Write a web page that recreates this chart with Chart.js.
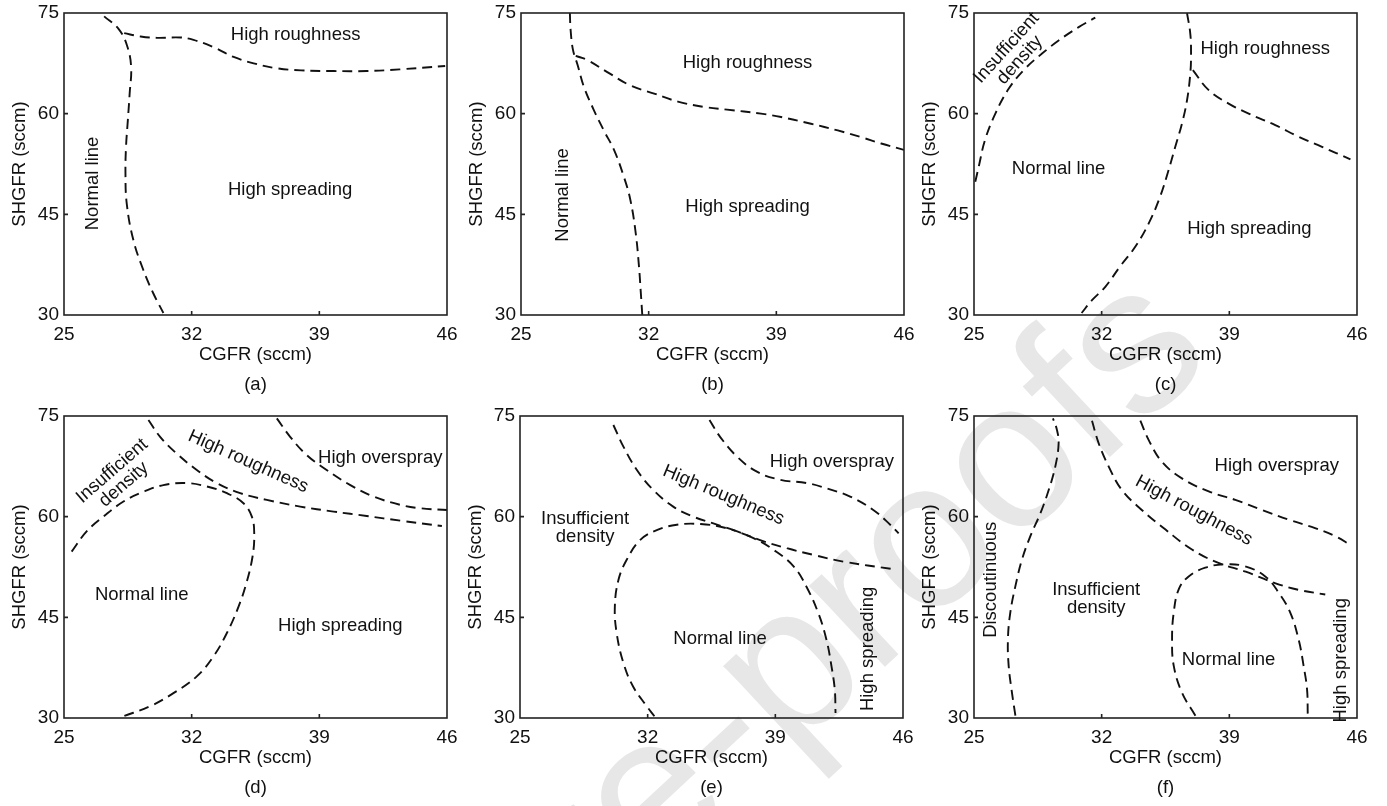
<!DOCTYPE html>
<html lang="en">
<head>
    <meta charset="UTF-8">
    <title>CGFR / SHGFR process maps</title>
    <script src="https://cdn.jsdelivr.net/npm/chart.js"></script>
    <style>
        body {
            margin: 0;
            background: #fff;
            font-family: "Liberation Sans", Arial, sans-serif;
        }
        #page {
            position: relative;
            width: 1387px;
            height: 806px;
            overflow: hidden;
        }
        .panel { position: absolute; }
        .watermark {
            position: absolute;
            left: 1095px;
            top: 229px;
            font-size: 210px;
            line-height: 1;
            color: #e7e7e7;
            white-space: nowrap;
            transform-origin: 0 0;
            transform: rotate(-43deg) translate(-100%, 0);
        }
    </style>
</head>
<body>
<div id="page">
    <div class="watermark">Journal Pre-proofs</div>
</div>

<script>
    // axis ticks shared by all six maps
    const xTicks = [25, 32, 39, 46];
    const yTicks = [30, 45, 60, 75];

    // (a)
    const aLeft = [[27.2,74.5],[28.0,72.6],[28.45,70.2],[28.68,67.0],[28.6,63.0],[28.5,59.0],[28.4,55.0],[28.37,51.1],[28.44,46.6],[28.8,41.2],[29.35,36.7],[29.9,33.2],[30.45,30.3]];
    const aTop = [[28.3,72.0],[29.2,71.5],[30.1,71.3],[31.4,71.35],[32.1,71.0],[33.2,69.9],[34.3,68.45],[35.4,67.5],[36.7,66.75],[38.0,66.45],[39.8,66.35],[41.6,66.35],[43.4,66.6],[45.9,67.1]];
    // (b)
    const bLeft = [[27.68,75],[27.72,72.5],[27.85,69.5],[28.1,67.3],[28.45,64.0],[29.0,60.5],[29.54,57.5],[30.1,54.6],[30.64,50.6],[31.0,47.1],[31.29,42.2],[31.47,37.2],[31.56,33.7],[31.65,30.0]];
    const bRight = [[28.0,68.6],[28.63,68.0],[29.73,66.2],[31.0,64.2],[32.3,63.0],[33.6,61.8],[35.04,61.0],[36.3,60.6],[38.16,60.0],[39.26,59.5],[40.9,58.5],[42.37,57.5],[43.65,56.5],[44.75,55.55],[46.0,54.6]];
    // (c)
    const cUpper = [[25.07,49.85],[25.26,52.1],[25.6,56.05],[26.17,60.0],[26.9,63.7],[27.8,66.7],[28.73,68.95],[29.64,70.9],[30.74,72.9],[31.65,74.3]];
    const cMiddle = [[36.68,75],[36.86,71.9],[36.9,68.95],[36.86,66.0],[36.68,62.0],[36.4,58.5],[36.04,55.1],[35.67,51.6],[35.2,47.6],[34.58,43.65],[33.85,40.2],[33.0,37.2],[32.2,34.2],[31.47,32.2],[30.9,30.3]];
    const cRight = [[37.0,66.5],[37.87,63.5],[38.96,61.5],[40.06,60.0],[41.52,58.3],[42.8,56.55],[44.08,55.06],[45.64,53.2]];
    // (d)
    const dDome = [[25.42,54.8],[26.24,57.8],[27.16,60.0],[28.26,62.25],[29.35,63.7],[30.45,64.7],[31.73,65.0],[32.83,64.5],[33.93,63.5],[34.84,62.0],[35.3,60.0],[35.43,57.5],[35.34,54.1],[35.0,50.1],[34.57,46.6],[33.93,42.66],[33.2,39.2],[32.28,36.2],[31.0,33.7],[29.72,31.75],[28.26,30.26]];
    const dRough = [[29.63,74.4],[30.27,71.9],[31.18,69.4],[32.28,66.96],[33.38,65.0],[34.66,63.5],[36.12,62.5],[37.95,61.5],[39.78,60.76],[41.6,60.1],[43.44,59.4],[45.72,58.6]];
    const dOver = [[36.67,74.65],[37.4,71.9],[38.3,69.2],[39.4,66.96],[40.7,64.7],[41.97,63.0],[43.44,61.76],[44.5,61.26],[46.0,61.0]];
    // (e)
    const eLoop = [[32.37,30.26],[31.95,31.75],[31.2,34.7],[30.67,38.2],[30.3,42.66],[30.2,46.6],[30.4,50.6],[30.85,53.57],[31.58,56.5],[32.5,58.0],[33.6,58.8],[34.9,58.9],[36.3,58.3],[37.8,56.8],[38.9,55.06],[40.0,52.6],[40.7,49.6],[41.36,45.6],[41.8,41.7],[42.08,37.7],[42.26,34.2],[42.3,30.75]];
    const eRough = [[30.12,73.66],[30.67,70.44],[31.4,67.0],[32.3,64.0],[33.4,61.5],[34.5,60.0],[35.6,59.0],[36.9,57.8],[38.17,56.5],[39.63,55.3],[41.1,54.3],[42.74,53.3],[45.4,52.2]];
    const eOver = [[35.39,74.4],[35.97,71.9],[36.9,68.95],[37.99,66.7],[39.27,65.5],[40.73,65.0],[41.83,64.2],[43.1,63.0],[44.37,61.0],[45.3,58.8],[45.76,57.5]];
    // (f)
    const fLeft = [[27.27,30.35],[27.08,33.8],[26.9,37.8],[26.86,41.7],[26.99,45.7],[27.27,49.65],[27.63,53.6],[28.09,57.1],[28.64,60.5],[29.1,64.0],[29.46,67.5],[29.64,70.9],[29.55,72.9],[29.33,74.65]];
    const fRough = [[31.47,74.3],[31.84,70.9],[32.38,67.5],[33.1,64.0],[34.2,61.0],[35.5,58.07],[36.95,55.1],[38.4,53.1],[39.9,51.8],[41.5,50.1],[42.8,49.1],[44.26,48.4]];
    const fOver = [[34.12,74.3],[34.58,71.4],[35.3,68.2],[36.4,65.7],[37.87,63.76],[39.33,62.5],[40.8,61.0],[42.25,59.55],[43.7,58.3],[44.8,57.1],[45.7,55.7]];
    const fDome = [[37.14,30.35],[36.4,33.8],[35.95,37.8],[35.86,41.7],[35.95,45.7],[36.23,49.2],[36.77,51.1],[37.68,52.4],[38.78,52.9],[39.87,52.6],[40.97,51.1],[41.7,48.7],[42.34,45.7],[42.8,41.7],[43.07,37.8],[43.26,34.3],[43.3,30.6]];

    // region names: text, x, y, rotation (deg)
    const aLabels = [['High roughness',37.7,71.7,0],['High spreading',37.4,48.7,0],['Normal line',26.6,49.6,-90]];
    const bLabels = [['High roughness',37.42,67.56,0],['High spreading',37.42,46.13,0],['Normal line',27.3,47.9,-90]];
    const cLabels = [['High roughness',40.97,69.6,0],['Normal line',29.64,51.7,0],['High spreading',40.1,42.9,0],['Insufficient\ndensity',27.15,68.9,-48]];
    const dLabels = [['High overspray',42.34,68.7,0],['High roughness',35.1,68.2,24],['Insufficient\ndensity',27.96,65.8,-41],['Normal line',29.26,48.4,0],['High spreading',40.15,43.65,0]];
    const eLabels = [['High overspray',42.1,68.2,0],['High roughness',36.16,63.2,22.6],['Insufficient\ndensity',28.57,58.3,0],['Normal line',35.97,41.8,0],['High spreading',44.06,40.3,-90]];
    const fLabels = [['High overspray',41.6,67.5,0],['High roughness',37.05,60.9,28],['Discoutinuous',25.95,50.6,-90],['Insufficient\ndensity',31.7,47.8,0],['Normal line',38.96,38.6,0],['High spreading',45.1,38.6,-90]];

    const panels = [
        { tag: '(a)', left: 0,   top: 0,   curves: [aLeft, aTop],                 labels: aLabels },
        { tag: '(b)', left: 457, top: 0,   curves: [bLeft, bRight],               labels: bLabels },
        { tag: '(c)', left: 910, top: 0,   curves: [cUpper, cMiddle, cRight],     labels: cLabels },
        { tag: '(d)', left: 0,   top: 403, curves: [dDome, dRough, dOver],        labels: dLabels },
        { tag: '(e)', left: 456, top: 403, curves: [eLoop, eRough, eOver],        labels: eLabels },
        { tag: '(f)', left: 910, top: 403, curves: [fLeft, fRough, fOver, fDome], labels: fLabels }
    ];

    Chart.defaults.font.family = "'Liberation Sans', Arial, sans-serif";
    Chart.defaults.font.size = 18;
    Chart.defaults.color = '#111';

    // frame, inward ticks and the region names
    const mapDecor = {
        id: 'mapDecor',
        afterDatasetsDraw(chart, args, opts) {
            const { ctx, chartArea: a, scales: { x, y } } = chart;
            ctx.save();
            ctx.strokeStyle = '#222';
            ctx.lineWidth = 1.6;
            ctx.strokeRect(a.left, a.top, a.right - a.left, a.bottom - a.top);
            ctx.beginPath();
            xTicks.slice(1, -1).forEach(v => {
                const px = x.getPixelForValue(v);
                ctx.moveTo(px, a.bottom);
                ctx.lineTo(px, a.bottom - 4);
            });
            yTicks.slice(1, -1).forEach(v => {
                const py = y.getPixelForValue(v);
                ctx.moveTo(a.left, py);
                ctx.lineTo(a.left + 4, py);
            });
            ctx.stroke();

            ctx.fillStyle = '#111';
            ctx.font = "18.5px 'Liberation Sans', Arial, sans-serif";
            ctx.textAlign = 'center';
            ctx.textBaseline = 'middle';
            opts.items.forEach(([text, vx, vy, rot]) => {
                const lines = text.split('\n');
                ctx.save();
                ctx.translate(x.getPixelForValue(vx), y.getPixelForValue(vy));
                ctx.rotate(rot * Math.PI / 180);
                lines.forEach((ln, i) => {
                    ctx.fillText(ln, 0, (i - (lines.length - 1) / 2) * 18);
                });
                ctx.restore();
            });
            ctx.restore();
        }
    };

    const page = document.getElementById('page');

    panels.forEach(p => {
        const box = document.createElement('div');
        box.className = 'panel';
        box.style.left = p.left + 'px';
        box.style.top = p.top + 'px';
        const cv = document.createElement('canvas');
        cv.width = 460;
        cv.height = 400;
        box.appendChild(cv);
        page.appendChild(box);

        new Chart(cv, {
            type: 'scatter',
            data: {
                datasets: p.curves.map(c => ({
                    data: c.map(([x, y]) => ({ x, y })),
                    showLine: true,
                    borderColor: '#111',
                    borderWidth: 1.9,
                    borderDash: [10, 6],
                    pointRadius: 0,
                    tension: 0.4,
                    fill: false
                }))
            },
            options: {
                responsive: false,
                animation: false,
                layout: { padding: { top: 13, left: 0, right: 13, bottom: 0 } },
                plugins: {
                    legend: { display: false },
                    tooltip: { enabled: false },
                    mapDecor: { items: p.labels }
                },
                scales: {
                    x: {
                        type: 'linear',
                        min: xTicks[0],
                        max: xTicks[xTicks.length - 1],
                        afterBuildTicks: s => { s.ticks = xTicks.map(v => ({ value: v })); },
                        afterFit: s => { s.height = 85; s.paddingLeft = 0; s.paddingRight = 0; },
                        grid: { display: false, drawTicks: false },
                        border: { display: false },
                        ticks: { padding: 8, color: '#111', font: { size: 19 } },
                        title: {
                            display: true,
                            text: ['CGFR (sccm)', p.tag],
                            color: '#111',
                            font: { size: 18.5, lineHeight: 1.62 },
                            padding: { top: 0, bottom: 0 }
                        }
                    },
                    y: {
                        type: 'linear',
                        min: yTicks[0],
                        max: yTicks[yTicks.length - 1],
                        afterBuildTicks: s => { s.ticks = yTicks.map(v => ({ value: v })); },
                        afterFit: s => { s.width = 64; s.paddingTop = 0; s.paddingBottom = 0; },
                        grid: { display: false, drawTicks: false },
                        border: { display: false },
                        ticks: { padding: 5, color: '#111', font: { size: 19 } },
                        title: {
                            display: true,
                            text: 'SHGFR (sccm)',
                            color: '#111',
                            font: { size: 18.5, lineHeight: 1.2 },
                            padding: { top: 9, bottom: 0 }
                        }
                    }
                }
            },
            plugins: [mapDecor]
        });
    });
</script>
</body>
</html>
